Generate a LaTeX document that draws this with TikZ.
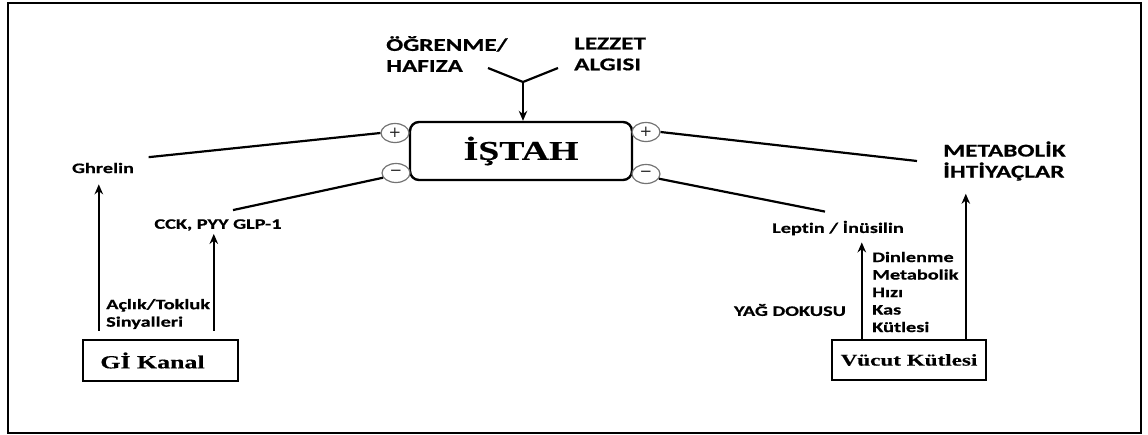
\documentclass[tikz,border=0pt]{standalone}
\usepackage{fontspec}
\usetikzlibrary{arrows.meta,shapes.geometric,calc}
\newfontfamily\lab[FakeStretch=1.4,FakeBold=0.6,RawFeature=-liga]{Carlito}
\newfontfamily\tms[FakeStretch=1.4,FakeBold=0.4]{Liberation Serif}
\newfontfamily\sgn{DejaVu Sans}
\begin{document}
\begin{tikzpicture}[x=1pt,y=-1pt,
  line/.style={line width=2.2pt},
  arr/.style={line width=2.2pt,-{Stealth[length=10pt,width=8.5pt]}},
  small/.style={font=\lab\bfseries\fontsize{14.5}{17.5}\selectfont, inner sep=1pt, align=left},
  big/.style={font=\lab\bfseries\fontsize{18}{21}\selectfont, inner sep=1pt, align=left},
  sign/.style={ellipse, draw=black!55, line width=1.2pt, minimum width=28pt, minimum height=19pt,
               inner sep=0pt, fill=white, text=black!85, font=\sgn\fontsize{15}{15}\selectfont},
  box/.style={draw, line width=2.4pt, inner sep=0pt}
]
\useasboundingbox (0,0) rectangle (1148,434);
\draw[line width=2.5pt] (8,3) rectangle (1141,433);

% central node with its +/- markers
\node[box, rounded corners=9pt, minimum width=222pt, minimum height=58pt,
      font=\tms\bfseries\fontsize{27}{30}\selectfont] (istah) at (521,151) {İŞTAH};
\node[sign] (pl) at (395,133) {+};
\node[sign] (ml) at (396,173) {−};
\node[sign] (pr) at (646,132) {+};
\node[sign] (mr) at (646,174) {−};

% inputs from above
\node[big, anchor=west] (ogr) at (385,54) {ÖĞRENME/\\HAFIZA};
\node[big, anchor=west] (lez) at (573,54) {LEZZET\\ALGISI};
\coordinate (yj) at (523,82);
\coordinate (yl) at (488,68);
\coordinate (yr) at (558,68);
\draw[line] (yl) -- (yj) -- (yr);
\draw[arr] (yj) -- (yj |- istah.north);

% left side
\node[small] (ghrelin) at (103,168) {Ghrelin};
\node[small] (cck) at (218,225) {CCK, PYY GLP-1};
\node[small, anchor=west] (acl) at (105,314) {Açlık/Tokluk\\Sinyalleri};
\node[box, minimum width=155pt, minimum height=41pt,
      font=\tms\bfseries\fontsize{18.5}{20}\selectfont] (gi) at (160.5,360.5) {Gİ Kanal\hspace*{16pt}};

\draw[line] (pl.west) -- ([shift={(13.5,-4.5)}]ghrelin.north east);
\draw[line] (ml.200) -- ([shift={(15,-8)}]cck.north);
\coordinate (g1) at ([shift={(17,-8)}]gi.north west);
\coordinate (g2) at ([shift={(132,-8)}]gi.north west);
\draw[arr] (g1) -- ($(g1 |- ghrelin.south)+(0,10)$);
\draw[arr] (g2) -- ($(g2 |- cck.south)+(0,2)$);

% right side
\node[big, anchor=west] (metab) at (942,161) {METABOLİK\\İHTİYAÇLAR};
\node[small] (leptin) at (838,228) {Leptin / İnüsilin};
\node[small, anchor=west] (din) at (871,292) {Dinlenme\\Metabolik\\Hızı\\Kas\\Kütlesi};
\node[small] (yag) at (790,310) {YAĞ DOKUSU};
\node[box, minimum width=154pt, minimum height=40pt,
      font=\tms\bfseries\fontsize{16.5}{18}\selectfont] (vk) at (909,360) {Vücut Kütlesi};

\draw[line] (pr.east) -- ([xshift=-25pt]metab.west);
\draw[line] (mr.340) -- ([shift={(-13,-8)}]leptin.north);
\coordinate (v1) at ([xshift=31pt]vk.north west);
\coordinate (v2) at ([xshift=135pt]vk.north west);
\draw[arr] (v1) -- ($(v1 |- leptin.south)+(0,6)$);
\draw[arr] (v2) -- ($(v2 |- metab.south)+(0,12)$);
\end{tikzpicture}
\end{document}
